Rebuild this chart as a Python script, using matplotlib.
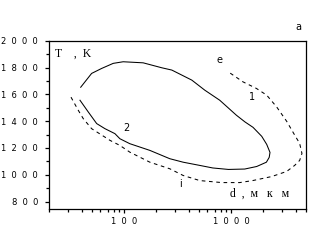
import matplotlib
matplotlib.use("Agg")
import matplotlib.pyplot as plt
from matplotlib.ticker import FixedLocator, NullFormatter, LogLocator

# curve 2 (solid loop), d in um, T in K
d2 = [39.3, 49.7, 61.6, 79.1, 98, 150.6, 225, 279, 429, 567, 782, 1120, 1347, 1600,
      1929, 2147, 2305, 2266, 2133, 1732, 1338, 943, 673, 509, 356, 267, 174, 113,
      91.3, 82, 66.2, 55.4, 46.2, 38.7]
T2 = [1653, 1756, 1793, 1831, 1843, 1835, 1798, 1781, 1706, 1631, 1556, 1444, 1394, 1354,
      1287, 1227, 1167, 1130, 1094, 1062, 1043, 1040, 1051, 1070, 1094, 1120, 1182, 1232,
      1269, 1307, 1344, 1382, 1469, 1556]

# curve 1 / i (dashed loop)
d1 = [980, 1290, 1721, 2147, 2661, 3299, 3835, 4362, 4583, 4362, 3917, 3299, 2390, 1590,
      1202, 817, 509, 356, 267, 174, 113, 91.3, 73.7, 66.2, 49.7, 41.5, 37.3, 31.9]
T1 = [1758, 1693, 1644, 1594, 1506, 1399, 1309, 1234, 1159, 1107, 1070, 1025, 987, 957,
      942, 942, 957, 995, 1045, 1094, 1169, 1219, 1257, 1281, 1344, 1419, 1481, 1579]

yticks = [800, 1000, 1200, 1400, 1600, 1800, 2000]
ylabels = ["8  0  0", "1  0  0  0", "1  2  0  0", "1  4  0  0", "1  6  0  0", "1  8  0  0", "2  0  0  0"]
xticks = [100, 1000]
xlabels = ["1  0  0", "1  0  0  0"]

fig = plt.figure(figsize=(3.24, 2.44), dpi=100)
ax = fig.add_axes([49.3/324, 35/244, 256.7/324, 168.3/244])

ax.plot(d2, T2, color="black", lw=0.75)
ax.plot(d1, T1, color="black", lw=0.75, dashes=(3.5, 3.5))

ax.set_xscale("log")
ax.set_xlim(20, 5000)
ax.set_ylim(745, 2000)

ax.set_yticks(yticks)
ax.set_yticklabels(ylabels)
ax.yaxis.set_minor_locator(FixedLocator(list(range(800, 2000, 100))))
ax.set_xticks(xticks)
ax.set_xticklabels(xlabels)
ax.xaxis.set_minor_locator(LogLocator(base=10, subs=range(2, 10)))
ax.xaxis.set_minor_formatter(NullFormatter())

ax.tick_params(which="both", direction="out", width=0.9, labelsize=6, pad=3)
ax.tick_params(which="major", length=3)
ax.tick_params(which="minor", length=2.5)
ax.tick_params(axis="y", pad=5)
for s in ax.spines.values():
    s.set_linewidth(0.9)

ax.text(0.022, 0.925, "T    ,  K", transform=ax.transAxes, fontsize=8.5,
        family="Liberation Serif", va="center", ha="left")
ax.text(0.704, 0.091, "d  ,  м   к   м", transform=ax.transAxes, fontsize=8.5,
        family="Liberation Serif", va="center", ha="left")

ax.text(771, 1856, "e", fontsize=7, ha="center", va="center")
ax.text(1579, 1581, "1", fontsize=7, ha="center", va="center")
ax.text(104, 1347, "2", fontsize=7, ha="center", va="center")
ax.text(333, 930, "i", fontsize=7, ha="center", va="center")
fig.text(298.7/324, 1 - 26.7/244, "a", fontsize=7, ha="center", va="center")

fig.savefig("out.png", dpi=100)
